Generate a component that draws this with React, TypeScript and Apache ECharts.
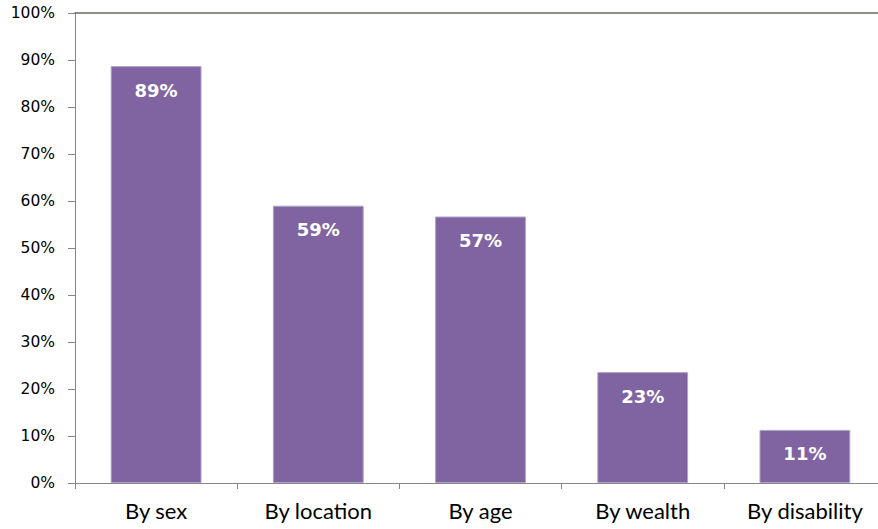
import React, { useEffect, useRef } from "react";
import * as echarts from "echarts";

const categories = ["By sex", "By location", "By age", "By wealth", "By disability"];
const values = [88.7, 59, 56.7, 23.6, 11.3];
const valueLabels = ["89%", "59%", "57%", "23%", "11%"];
const yTicks = [0, 10, 20, 30, 40, 50, 60, 70, 80, 90, 100];

export default function App() {
  const ref = useRef<HTMLDivElement>(null);
  useEffect(() => {
    if (!ref.current) return;
    const chart = echarts.init(ref.current, undefined, { renderer: "svg" });
    chart.setOption({
      animation: false,
      backgroundColor: "#ffffff",
      grid: { left: 75, right: 0, top: 13, bottom: 46, containLabel: false },
      xAxis: [
        {
          type: "category",
          data: categories,
          position: "bottom",
          axisLine: { show: true, lineStyle: { color: "#868686", width: 1 } },
          axisTick: { show: true, alignWithLabel: false, length: 6, lineStyle: { color: "#868686" } },
          axisLabel: {
            fontFamily: "Lato, 'Open Sans', sans-serif",
            fontSize: 22,
            color: "#000000",
            margin: 16,
          },
        },
        {
          type: "category",
          data: categories,
          position: "top",
          axisLine: { show: true, lineStyle: { color: "#6f6a60", width: 1.5 } },
          axisTick: { show: false },
          axisLabel: { show: false },
        },
      ],
      yAxis: {
        type: "value",
        min: yTicks[0],
        max: yTicks[yTicks.length - 1],
        interval: 10,
        axisLine: { show: true, lineStyle: { color: "#868686", width: 1 } },
        axisTick: { show: true, length: 7, lineStyle: { color: "#868686" } },
        splitLine: { show: false },
        axisLabel: {
          formatter: (v: number) => `${v}%`,
          fontFamily: "'DejaVu Sans', Verdana, sans-serif",
          fontSize: 15.5,
          color: "#000000",
          margin: 20,
        },
      },
      series: [
        {
          type: "bar",
          xAxisIndex: 0,
          data: values,
          barWidth: "56%",
          itemStyle: { color: "#8064A2", borderColor: "#b3a2c7", borderWidth: 1 },
          label: {
            show: true,
            position: "insideTop",
            distance: 15,
            formatter: (p: any) => valueLabels[p.dataIndex],
            color: "#ffffff",
            fontFamily: "'DejaVu Sans', Verdana, sans-serif",
            fontWeight: "bold",
            fontSize: 18,
          },
        },
      ],
    });
    return () => chart.dispose();
  }, []);
  return (
    <div style={{ width: 878, height: 529, position: "absolute", left: 0, top: 0, overflow: "hidden", background: "#fff" }}>
      <div ref={ref} style={{ width: 886, height: 529 }} />
    </div>
  );
}
